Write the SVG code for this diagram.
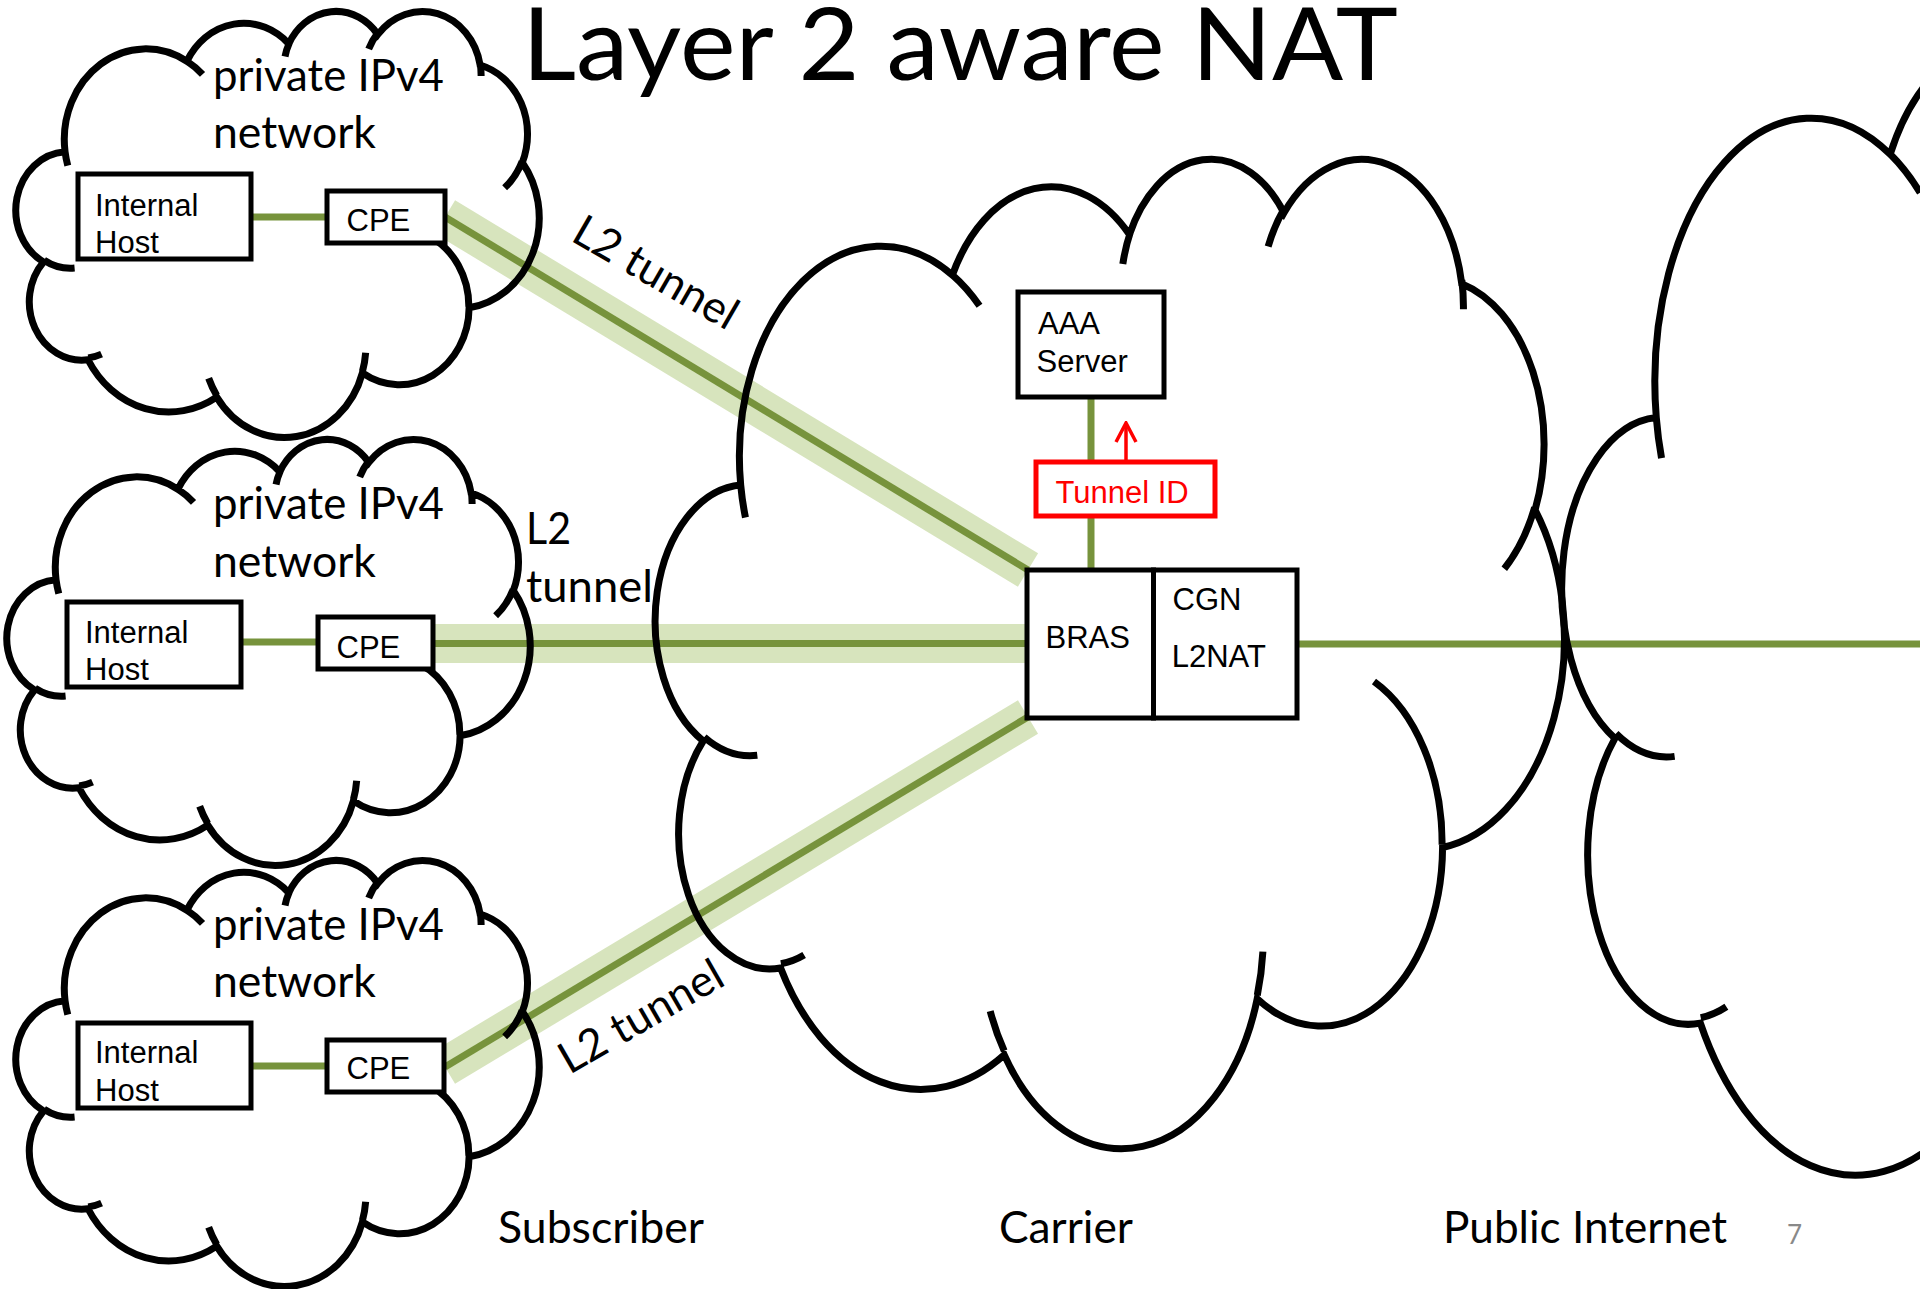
<svg xmlns="http://www.w3.org/2000/svg" xmlns:xlink="http://www.w3.org/1999/xlink" width="1920" height="1289" viewBox="0 0 1920 1289">
<style>
.cl{fill:none;stroke:#000;stroke-width:7}
.box{fill:#fff;stroke:#000;stroke-width:5}
.rbox{fill:#fff;stroke:#FF0000;stroke-width:5}
.band{stroke:#D7E4BD;stroke-width:39;fill:none}
.wire{stroke:#77933C;stroke-width:7;fill:none}
.cal{font-family:Lato,"Open Sans","Liberation Sans",sans-serif;fill:#000;font-size:44px}
.ar{font-family:"Liberation Sans",Arial,sans-serif;fill:#000;font-size:31px}
</style>
<defs>
<path id="cloud" vector-effect="non-scaling-stroke" d="M3900 14370 A6753 9190 0 0 1 14005 5202 A5333 7267 0 0 1 22456 3432 A4365 5945 0 0 1 29833 2481 A4857 6595 0 0 1 38318 5576 A5333 7273 0 0 1 41818 15459 A6775 9220 0 0 1 37404 30203 A5785 7867 0 0 1 28556 36813 A6752 9215 0 0 1 16480 39264 A7720 10543 0 0 1 5805 35470 A4360 5918 0 0 1 2113 25548 A4345 5945 0 0 1 3900 14370 Z M4693 26177 A4345 5945 0 0 1 2160 25380 M6928 34899 A4360 5918 0 0 1 5820 35281 M16478 39090 A6752 9215 0 0 1 15810 37350 M28827 34751 A6752 9215 0 0 1 28560 36660 M34129 22954 A5785 7867 0 0 1 37381 30090 M41798 15354 A5333 7273 0 0 1 40350 18030 M38324 5426 A4857 6595 0 0 1 38400 6690 M29078 3952 A4857 6595 0 0 1 29820 2340 M22141 4720 A4365 5945 0 0 1 22500 3330 M14000 5192 A6753 9190 0 0 1 15300 6541 M4127 15789 A6753 9190 0 0 1 3900 14370"/>
<marker id="openArrow" viewBox="-22 -12 24 24" refX="0" refY="0" markerWidth="24" markerHeight="24" markerUnits="userSpaceOnUse" orient="auto">
<path d="M-19 -10 L0 0 L-19 10" fill="none" stroke="#FF0000" stroke-width="3.5"/>
</marker>
</defs>
<rect width="1920" height="1289" fill="#fff"/>

<g id="connectors">
<path class="band" d="M445 217 L1028 570"/>
<path class="band" d="M433 643.5 L1028 643.5"/>
<path class="band" d="M445 1067 L1028 717"/>
<path class="wire" d="M445 217 L1028 570"/>
<path class="wire" d="M433 643.5 L1028 643.5"/>
<path class="wire" d="M445 1067 L1028 717"/>
<path class="wire" d="M251 217 L327 217"/>
<path class="wire" d="M241 642 L318 642"/>
<path class="wire" d="M251 1066 L327 1066"/>
<path class="wire" d="M1091 397 L1091 570"/>
<path class="wire" d="M1297 644 L1920 644"/>
<path d="M1126 462 L1126 423" fill="none" stroke="#FF0000" stroke-width="3.5" marker-end="url(#openArrow)"/>
</g>

<g id="cloud-subscriber-1">
<use xlink:href="#cloud" class="cl" transform="translate(18 10) scale(0.01206 0.00986)"/>
<text class="cal" x="213" y="91" textLength="231" lengthAdjust="spacingAndGlyphs">private IPv4</text>
<text class="cal" x="213" y="148" textLength="163" lengthAdjust="spacingAndGlyphs">network</text>
</g>
<g id="cloud-subscriber-2">
<use xlink:href="#cloud" class="cl" transform="translate(9 438) scale(0.01206 0.00986)"/>
<text class="cal" x="213" y="519" textLength="231" lengthAdjust="spacingAndGlyphs">private IPv4</text>
<text class="cal" x="213" y="577" textLength="163" lengthAdjust="spacingAndGlyphs">network</text>
</g>
<g id="cloud-subscriber-3">
<use xlink:href="#cloud" class="cl" transform="translate(18 859) scale(0.01206 0.00986)"/>
<text class="cal" x="213" y="940" textLength="231" lengthAdjust="spacingAndGlyphs">private IPv4</text>
<text class="cal" x="213" y="997" textLength="163" lengthAdjust="spacingAndGlyphs">network</text>
</g>
<g id="cloud-carrier">
<use xlink:href="#cloud" class="cl" transform="translate(659 156) scale(0.020949 0.022894)"/>
</g>
<g id="cloud-internet">
<use xlink:href="#cloud" class="cl" transform="translate(1566 5) scale(0.023148 0.028704)"/>
</g>

<g id="host-1">
<rect class="box" x="78" y="174" width="173" height="85"/>
<text class="ar" x="95" y="216" font-size="32">Internal</text>
<text class="ar" x="95" y="253" font-size="32">Host</text>
</g>
<g id="cpe-1">
<rect class="box" x="327" y="191" width="118" height="52"/>
<text class="ar" x="346.5" y="231">CPE</text>
</g>
<g id="host-2">
<rect class="box" x="67" y="602" width="174" height="85"/>
<text class="ar" x="85" y="643" font-size="32">Internal</text>
<text class="ar" x="85" y="680" font-size="32">Host</text>
</g>
<g id="cpe-2">
<rect class="box" x="318" y="617" width="115" height="52"/>
<text class="ar" x="336.5" y="658">CPE</text>
</g>
<g id="host-3">
<rect class="box" x="78" y="1023" width="173" height="85"/>
<text class="ar" x="95" y="1063" font-size="32">Internal</text>
<text class="ar" x="95" y="1101" font-size="32">Host</text>
</g>
<g id="cpe-3">
<rect class="box" x="327" y="1040" width="117" height="52"/>
<text class="ar" x="346.5" y="1079">CPE</text>
</g>
<g id="aaa-server">
<rect class="box" x="1018" y="292" width="146" height="105"/>
<text class="ar" x="1038" y="334" font-size="32">AAA</text>
<text class="ar" x="1036.5" y="372" font-size="32">Server</text>
</g>
<g id="tunnel-id">
<rect class="rbox" x="1036" y="462" width="179" height="54"/>
<text class="ar" x="1055.5" y="503" style="fill:#FF0000">Tunnel ID</text>
</g>
<g id="bras">
<rect class="box" x="1027" y="570" width="126.5" height="148"/>
<text class="ar" x="1045.5" y="648">BRAS</text>
</g>
<g id="cgn">
<rect class="box" x="1153.5" y="570" width="143.5" height="148"/>
<text class="ar" x="1172.5" y="610">CGN</text>
<text class="ar" x="1171.7" y="667">L2NAT</text>
</g>

<g id="labels">
<text class="cal" x="522" y="80" style="font-size:100px" textLength="876" lengthAdjust="spacingAndGlyphs">Layer 2 aware NAT</text>
<text class="cal" transform="translate(569.5 240) rotate(30)" textLength="182" lengthAdjust="spacingAndGlyphs">L2 tunnel</text>
<text class="cal" x="526" y="544" textLength="45" lengthAdjust="spacingAndGlyphs">L2</text>
<text class="cal" x="526" y="602" textLength="127" lengthAdjust="spacingAndGlyphs">tunnel</text>
<text class="cal" transform="translate(569.5 1075) rotate(-30)" textLength="182" lengthAdjust="spacingAndGlyphs">L2 tunnel</text>
<text class="cal" x="498" y="1243" textLength="206" lengthAdjust="spacingAndGlyphs">Subscriber</text>
<text class="cal" x="999" y="1243" textLength="134" lengthAdjust="spacingAndGlyphs">Carrier</text>
<text class="cal" x="1443" y="1243" textLength="284" lengthAdjust="spacingAndGlyphs">Public Internet</text>
<text class="cal" x="1787" y="1244" style="font-size:26px;fill:#898989">7</text>
</g>
</svg>
